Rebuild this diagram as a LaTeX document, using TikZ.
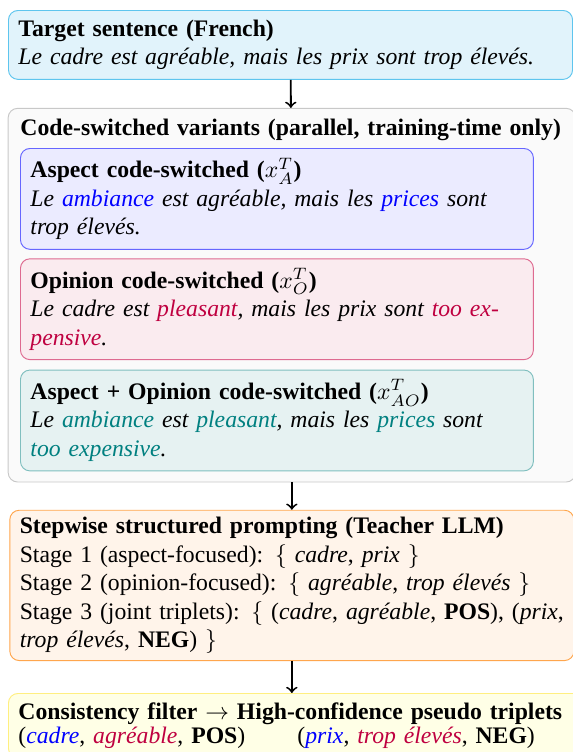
\documentclass[tikz,border=0pt]{standalone}
\usepackage{fontspec}
\setmainfont{Liberation Serif}
\usetikzlibrary{positioning,fit,backgrounds}

\definecolor{tgtfill}{HTML}{E1F3FB}
\definecolor{tgtline}{HTML}{5EC5EE}
\definecolor{csfill}{HTML}{FAFAFA}
\definecolor{csline}{HTML}{C8C8C8}
\definecolor{aspfill}{HTML}{EBEBFF}
\definecolor{aspline}{HTML}{6666FF}
\definecolor{opnfill}{HTML}{FAEBEF}
\definecolor{opnline}{HTML}{DE6A90}
\definecolor{aoxfill}{HTML}{E6F2F2}
\definecolor{aoxline}{HTML}{80BFBF}
\definecolor{prmfill}{HTML}{FFF4EA}
\definecolor{prmline}{HTML}{FFA64D}
\definecolor{filfill}{HTML}{FFFFE6}
\definecolor{filline}{HTML}{FFEF80}

\newcommand{\asp}[1]{\textcolor{blue}{#1}}
\newcommand{\opn}[1]{\textcolor{purple}{#1}}
\newcommand{\aox}[1]{\textcolor{teal}{#1}}

\begin{document}
\begin{tikzpicture}[x=0.4219pt, y=-0.4219pt,
  font=\fontsize{10}{12}\selectfont,
  every node/.style = {rounded corners=4pt, inner xsep=4.2pt, inner ysep=4pt},
  outerbox/.style = {draw, align=left, text width=229.6pt},
  innerbox/.style = {draw, align=left, text width=208pt},
  flow/.style = {->, line width=0.8pt}]
  \clip (0,0) rectangle (573,752);

  \node[outerbox, draw=tgtline, fill=tgtfill, anchor=north west] (target) at (8,10)
    {\textbf{Target sentence (French)}\\
     \textit{Le cadre est agréable, mais les prix sont trop élevés.}};

  % code-switched variants
  \node[anchor=north west, inner sep=0pt, text width=229pt] (cstitle) at (20,119)
    {\textbf{Code-switched variants (parallel, training-time only)}};
  \node[innerbox, draw=aspline, fill=aspfill, anchor=north west] (aspbox) at (20,148)
    {\textbf{Aspect code-switched ($x^{T}_{A}$)}\\
     \textit{Le \asp{ambiance} est agréable, mais les \asp{prices} sont}\\
     \textit{trop élevés.}};
  \node[innerbox, draw=opnline, fill=opnfill, below=3.6pt of aspbox] (opnbox)
    {\textbf{Opinion code-switched ($x^{T}_{O}$)}\\
     \textit{Le cadre est \opn{pleasant}, mais les prix sont \opn{too ex-}}\\
     \textit{\opn{pensive}.}};
  \node[innerbox, draw=aoxline, fill=aoxfill, below=4pt of opnbox] (aoxbox)
    {\textbf{Aspect + Opinion code-switched ($x^{T}_{AO}$)}\\
     \textit{Le \aox{ambiance} est \aox{pleasant}, mais les \aox{prices} sont}\\
     \textit{\aox{too expensive}.}};
  \begin{scope}[on background layer]
    \node[draw=csline, fill=csfill, inner xsep=5pt, inner ysep=4.5pt,
      fit=(cstitle)(aspbox)(aoxbox)] (csbox) {};
  \end{scope}

  \node[outerbox, draw=prmline, fill=prmfill, inner ysep=3pt, below=11.5pt of csbox] (prompt)
    {\textbf{Stepwise structured prompting (Teacher LLM)}\\
     Stage 1 (aspect-focused): $\{$ \textit{cadre}, \textit{prix} $\}$\\
     Stage 2 (opinion-focused): $\{$ \textit{agréable}, \textit{trop élevés} $\}$\\
     Stage 3 (joint triplets): $\{$ (\textit{cadre}, \textit{agréable}, \textbf{POS}), (\textit{prix},\\
     \textit{trop élevés}, \textbf{NEG}) $\}$};

  \node[draw=filline, fill=filfill, align=left, text width=240pt,
    anchor=north west] (filter) at (8,693)
    {\textbf{Consistency filter $\rightarrow$ High-confidence pseudo triplets}\\[-2pt]
     (\textit{\asp{cadre}}, \textit{\opn{agréable}}, \textbf{POS})\hspace{22pt}(\textit{\asp{prix}}, \textit{\opn{trop élevés}}, \textbf{NEG})};

  \draw[flow] (target) -- (csbox);
  \draw[flow] (csbox) -- (prompt);
  \draw[flow] (prompt.south) -- (prompt.south |- filter.north);
\end{tikzpicture}
\end{document}
